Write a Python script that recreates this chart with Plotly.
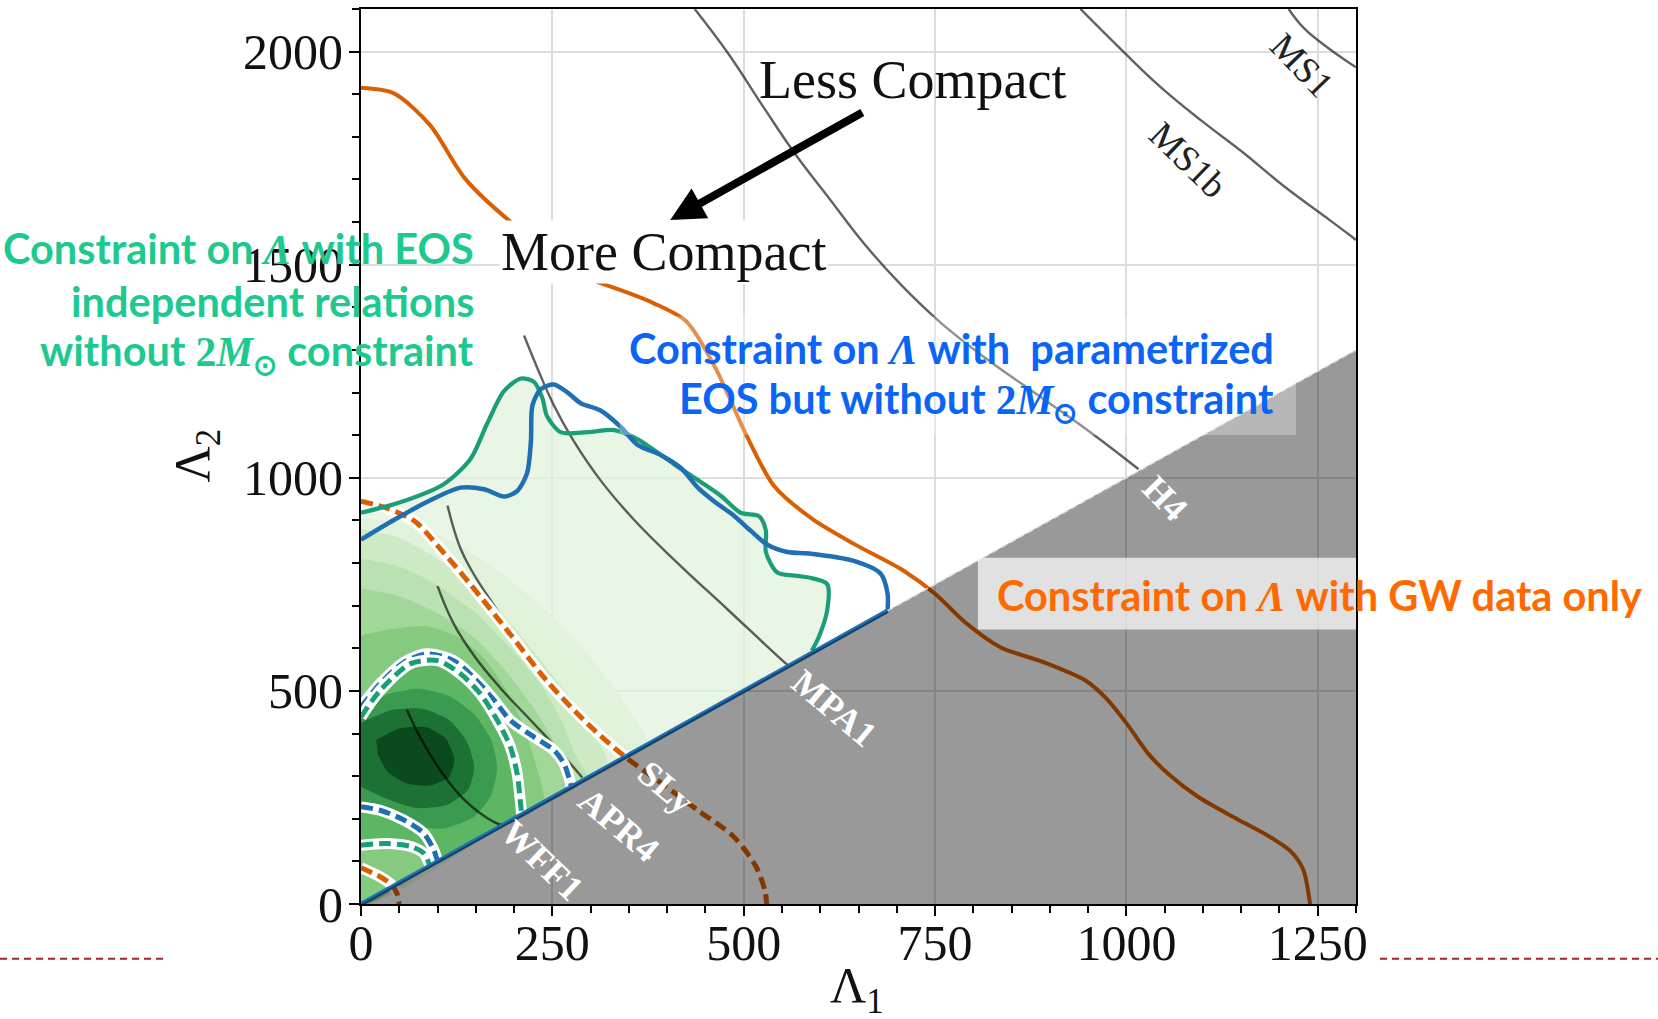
import plotly.graph_objects as go

# ---------------- axes ----------------
x_range = [0, 1300]
y_range = [0, 2100]
x_ticks = [0, 250, 500, 750, 1000, 1250]
y_ticks = [0, 500, 1000, 1500, 2000]

# ---------------- GW data only (orange) ----------------
gw90_x = [0, 43, 90, 136, 198, 250, 297, 340, 382, 425, 463, 503, 540, 590, 644, 709, 750, 790, 836,
          891, 946, 974, 1001, 1028, 1056, 1094, 1144, 1188, 1215, 1231, 1240]
gw90_y = [1915, 1902, 1828, 1702, 1597, 1530, 1469, 1440, 1410, 1367, 1258, 1102, 980, 903, 845, 782, 728,
          660, 602, 568, 525, 482, 422, 354, 303, 251, 200, 157, 123, 81, 0]
gw50_x = [0, 35, 71, 99, 143, 195, 243, 296, 344, 393, 440, 487, 516, 528, 530]
gw50_y = [945, 928, 897, 843, 750, 633, 523, 423, 347, 283, 220, 158, 88, 30, 0]
gw50_in_x = [0, 25, 40, 47, 50]
gw50_in_y = [85, 64, 45, 25, 0]

# ---------------- parametrized EOS (blue) ----------------
par90_x = [0, 43, 86, 130, 161, 187, 204, 217, 222, 224, 235, 252, 270, 287, 313, 339, 361, 392, 418, 440,
           462, 488, 509, 531, 557, 588, 644, 679, 688, 688]
par90_y = [855, 901, 943, 977, 973, 956, 969, 1011, 1086, 1170, 1208, 1219, 1200, 1175, 1158, 1120, 1078,
           1053, 1023, 977, 944, 910, 876, 843, 826, 822, 805, 775, 728, 688]
par90_diag_x = [0, 688]
par90_diag_y = [0, 688]
par50_x = [0, 25, 56, 86, 121, 147, 174, 195, 226, 252, 265, 272, 275]
par50_y = [462, 517, 567, 587, 571, 532, 478, 431, 392, 361, 330, 295, 275]
par50_in_x = [0, 25, 56, 82, 95, 100]
par50_in_y = [228, 220, 197, 166, 127, 100]

# ---------------- EOS-insensitive relations (green) ----------------
ins90_x = [0, 52, 108, 143, 165, 187, 209, 226, 237, 243, 261, 296, 331, 361, 379, 409, 440, 470, 496,
           520, 529, 529, 544, 570, 588, 609, 609, 598, 589]
ins90_y = [918, 943, 985, 1044, 1128, 1204, 1233, 1225, 1187, 1145, 1107, 1107, 1112, 1091, 1070, 1032,
           995, 958, 918, 910, 876, 826, 778, 770, 765, 751, 688, 626, 594]
ins50_x = [0, 25, 65, 100, 130, 156, 178, 195, 204, 208, 210]
ins50_y = [439, 501, 564, 571, 540, 493, 431, 369, 306, 244, 210]
ins50_in_x = [0, 34, 65, 82, 90]
ins50_in_y = [138, 142, 135, 119, 90]

# density shading levels (outer -> inner)
dens1_x = ins90_x + [400, 200, 0, 0]
dens1_y = ins90_y + [400, 200, 0, 450]
dens1b_x = [0, 60, 120, 180, 235, 285, 325, 355, 375, 250, 120, 0, 0]
dens1b_y = [905, 890, 850, 780, 700, 610, 520, 440, 375, 250, 120, 0, 450]
dens2_x = [0, 50, 100, 150, 200, 240, 275, 300, 322, 200, 100, 0, 0]
dens2_y = [880, 860, 810, 740, 650, 560, 480, 410, 330, 200, 100, 0, 440]
dens2b_x = [0, 50, 100, 150, 195, 235, 262, 280, 295, 180, 90, 0, 0]
dens2b_y = [810, 792, 748, 682, 600, 515, 430, 350, 295, 180, 90, 0, 400]
dens3_x = [0, 50, 100, 150, 190, 225, 250, 262, 268, 180, 90, 0, 0]
dens3_y = [740, 722, 682, 622, 545, 462, 385, 315, 268, 180, 90, 0, 370]
dens3b_x = [0, 40, 85, 125, 160, 190, 212, 228, 238, 150, 80, 0, 0]
dens3b_y = [630, 645, 652, 628, 578, 502, 420, 330, 238, 150, 80, 0, 320]
dens4_x = ins50_x + [150] + ins50_in_x[::-1] + [0]
dens4_y = ins50_y + [150] + ins50_in_y[::-1] + [300]
dens5_x = [0, 35, 75, 115, 148, 170, 178, 170, 148, 110, 70, 30, 0]
dens5_y = [455, 492, 505, 488, 445, 385, 320, 255, 205, 178, 180, 205, 240]
dens6_x = [0, 40, 80, 115, 138, 148, 140, 112, 72, 32, 0]
dens6_y = [425, 455, 458, 432, 382, 322, 268, 232, 225, 248, 275]
dens7_x = [20, 50, 85, 110, 122, 115, 90, 60, 35, 22]
dens7_y = [385, 412, 415, 390, 340, 298, 278, 283, 310, 350]

# ---------------- EOS curves ----------------
wff1_x = [60, 78, 104, 134, 174, 185]
wff1_y = [456, 389, 313, 246, 192, 185]
apr4_x = [100, 121, 148, 182, 226, 261, 289]
apr4_y = [746, 658, 582, 507, 423, 355, 297]
sly_x = [113, 130, 148, 174, 209, 243, 278, 313, 335]
sly_y = [935, 834, 772, 700, 605, 520, 452, 395, 360]
mpa1_x = [213, 235, 252, 278, 313, 357, 413, 479, 549, 558]
mpa1_y = [1334, 1238, 1170, 1086, 994, 901, 801, 691, 574, 560]
h4_x = [436, 480, 525, 568, 612, 658, 706, 758, 818, 886, 952, 1016]
h4_y = [2100, 1995, 1872, 1758, 1655, 1548, 1452, 1363, 1278, 1192, 1108, 1020]
ms1b_x = [940, 996, 1044, 1098, 1152, 1206, 1254, 1290, 1300]
ms1b_y = [2100, 2000, 1918, 1838, 1764, 1684, 1620, 1572, 1558]
ms1_x = [1212, 1232, 1264, 1296, 1300]
ms1_y = [2100, 2055, 2008, 1968, 1963]

# excluded region Lambda2 > Lambda1 side
excl_x = [0, 1300, 1300, 0]
excl_y = [0, 1300, 0, 0]
edge_x = [688, 1300]
edge_y = [688, 1300]

ORANGE = '#d95f02'
BLUE = '#1f6fb2'
GREEN = '#1b9e77'
EOSC = 'rgba(0,0,0,0.62)'

fig = go.Figure()


def add_line(x, y, color, width, dash=None, smoothing=0.8):
    fig.add_trace(go.Scatter(x=x, y=y, mode='lines', showlegend=False, hoverinfo='skip',
                             line=dict(color=color, width=width, dash=dash, shape='spline',
                                       smoothing=smoothing)))


def add_poly(x, y, color):
    fig.add_trace(go.Scatter(x=x, y=y, mode='lines', fill='toself', fillcolor=color, showlegend=False,
                             hoverinfo='skip', line=dict(width=0, color=color, shape='spline', smoothing=0.6)))


# shading
add_poly(dens1_x, dens1_y, 'rgba(226,242,220,0.75)')
add_poly(dens1b_x, dens1b_y, '#e0f2da')
add_poly(dens2_x, dens2_y, '#cdeac5')
add_poly(dens2b_x, dens2b_y, '#b9e1b1')
add_poly(dens3_x, dens3_y, '#a2d79a')
add_poly(dens3b_x, dens3b_y, '#86ca80')
add_poly(dens4_x, dens4_y, '#5db664')
add_poly(dens5_x, dens5_y, '#3a9a4f')
add_poly(dens6_x, dens6_y, '#1d7135')
add_poly(dens7_x, dens7_y, '#0b4a1f')

# EOS curves
for cx, cy in [(wff1_x, wff1_y), (apr4_x, apr4_y), (sly_x, sly_y), (mpa1_x, mpa1_y),
               (h4_x, h4_y), (ms1b_x, ms1b_y), (ms1_x, ms1_y)]:
    add_line(cx, cy, EOSC, 2.4, smoothing=1.2)

# dashed 50% contours with white casing
for cx, cy, col in [(gw50_x, gw50_y, ORANGE), (gw50_in_x, gw50_in_y, ORANGE),
                    (par50_x, par50_y, BLUE), (par50_in_x, par50_in_y, BLUE),
                    (ins50_x, ins50_y, GREEN), (ins50_in_x, ins50_in_y, GREEN)]:
    add_line(cx, cy, 'white', 11)
    add_line(cx, cy, col, 5, dash='12px,6px')

# solid 90% contours
add_line(ins90_x, ins90_y, GREEN, 4.2)
add_line(par90_x, par90_y, BLUE, 4.5)
add_line(par90_diag_x, par90_diag_y, BLUE, 4.5)
add_line(gw90_x, gw90_y, ORANGE, 4)

# excluded region (semi-transparent grey)
fig.add_trace(go.Scatter(x=excl_x, y=excl_y, mode='lines', fill='toself', fillcolor='rgba(0,0,0,0.40)',
                         line=dict(width=0), showlegend=False, hoverinfo='skip'))
add_line(edge_x, edge_y, 'rgba(225,225,225,0.9)', 1.6, dash='6px,4px')

# ---------------- annotations ----------------
ann = []
serif = 'Liberation Serif'


def lab(x, y, text, angle, color='white', size=36, bold=True):
    t = f'<b>{text}</b>' if bold else text
    ann.append(dict(x=x, y=y, xref='x', yref='y', text=t, showarrow=False, textangle=angle,
                    font=dict(family=serif, size=size, color=color), xanchor='center', yanchor='middle'))


lab(618, 461, 'MPA1', 40)
lab(398, 274, 'SLy', 40)
lab(337, 186, 'APR4', 40)
lab(236, 103, 'WFF1', 44)
lab(1050, 952, 'H4', 46)
lab(1080, 1746, 'MS1b', 44, color='#222222', size=37, bold=False)
lab(1230, 1968, 'MS1', 46, color='#222222', size=37, bold=False)

ann.append(dict(x=720, y=1934, xref='x', yref='y', text='Less Compact', showarrow=False,
                font=dict(family=serif, size=54, color='#111111')))
ann.append(dict(x=395, y=1531, xref='x', yref='y', text='More Compact', showarrow=False,
                bgcolor='white', font=dict(family=serif, size=54, color='#111111')))
ann.append(dict(x=404, y=1605, ax=657, ay=1859, xref='x', yref='y', axref='x', ayref='y', text='',
                showarrow=True, arrowhead=2, arrowwidth=8, arrowsize=0.85, arrowcolor='black'))

# axis titles
ann.append(dict(x=0.498, y=-0.095, xref='paper', yref='paper', text='Λ<sub>1</sub>', showarrow=False,
                font=dict(family=serif, size=50, color='#111111'), xanchor='center', yanchor='middle'))
ann.append(dict(x=-0.166, y=0.501, xref='paper', yref='paper', text='Λ<sub>2</sub>', showarrow=False,
                textangle=-90, font=dict(family=serif, size=50, color='#111111'),
                xanchor='center', yanchor='middle'))

LAM = '<span style="font-family:Liberation Serif"><i>Λ</i></span>'
MSUN = '<span style="font-family:Liberation Serif">2<i>M</i><sub>⊙</sub></span>'
SANS = 'Lato'


def slide(x, y, text, color, anchor='right'):
    ann.append(dict(x=x, y=y, xref='paper', yref='paper', text=f'<b>{text}</b>', showarrow=False,
                    xanchor=anchor, yanchor='middle', font=dict(family=SANS, size=41.5, color=color)))


GTXT = '#1ec98f'
slide(0.1156, 0.7331, f'Constraint on {LAM} with EOS', GTXT)
slide(0.1156, 0.6743, 'independent relations', GTXT)
slide(0.1156, 0.6153, f'without {MSUN} constraint', GTXT)
BTXT = '#0a64f5'
slide(0.9196, 0.6212, f'Constraint on {LAM} with  parametrized', BTXT)
slide(0.9196, 0.5622, f'EOS but without {MSUN} constraint', BTXT)
slide(0.9638, 0.3456, f'Constraint on {LAM} with GW data only', '#ff6a00', anchor='center')

shapes = [
    dict(type='rect', xref='paper', yref='paper', x0=0.620, x1=1.0, y0=0.3066, y1=0.3868,
         fillcolor='rgba(255,255,255,0.70)', line=dict(width=0), layer='above'),
    dict(type='rect', xref='paper', yref='paper', x0=0.260, x1=0.9397, y0=0.524, y1=0.6566,
         fillcolor='rgba(255,255,255,0.30)', line=dict(width=0), layer='above'),
    dict(type='line', xref='paper', yref='paper', x0=-0.3628, x1=-0.195, y0=-0.0613, y1=-0.0613,
         line=dict(color='#a8202c', width=2, dash='7px,5px')),
    dict(type='line', xref='paper', yref='paper', x0=1.0241, x1=1.3035, y0=-0.0613, y1=-0.0613,
         line=dict(color='#a8202c', width=2, dash='7px,5px')),
]

axis_common = dict(showline=True, linecolor='black', linewidth=2, mirror=True, ticks='outside',
                   ticklen=10, tickwidth=1.5, tickcolor='black', showgrid=True, gridcolor='#dcdcdc',
                   gridwidth=1.5, zeroline=False, tickfont=dict(family=serif, size=50, color='#111111'))

fig.update_layout(
    width=1658, height=1019, autosize=False,
    margin=dict(l=361, r=302, t=7, b=115),
    paper_bgcolor='white', plot_bgcolor='white',
    xaxis=dict(range=x_range, tickvals=x_ticks, ticktext=[str(v) for v in x_ticks],
               minor=dict(dtick=50, tick0=0, ticks='outside', ticklen=7, tickcolor='black', showgrid=False),
               ticklabelstandoff=-16, **axis_common),
    yaxis=dict(range=y_range, tickvals=y_ticks, ticktext=[str(v) for v in y_ticks],
               minor=dict(dtick=100, tick0=0, ticks='outside', ticklen=7, tickcolor='black', showgrid=False),
               ticklabelstandoff=-4, **axis_common),
    annotations=ann, shapes=shapes, showlegend=False,
)

fig.write_html('out.html')
